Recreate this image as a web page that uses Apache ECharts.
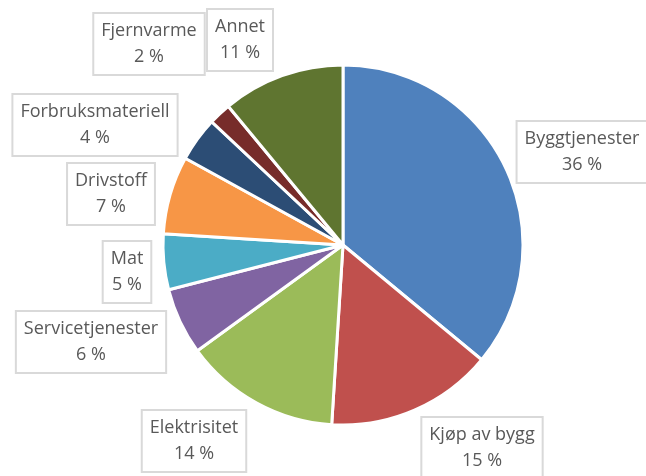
<!DOCTYPE html>
<html>
<head>
<meta charset="utf-8">
<script src="https://cdn.jsdelivr.net/npm/echarts@6/dist/echarts.min.js"></script>
<style>
  html, body { margin: 0; padding: 0; background: #fff; }
  #chart { width: 646px; height: 476px; }
</style>
</head>
<body>
<div id="chart"></div>
<script>
// 数据
var categories = ['Byggtjenester', 'Kjøp av bygg', 'Elektrisitet', 'Servicetjenester', 'Mat',
    'Drivstoff', 'Forbruksmateriell', 'Fjernvarme', 'Annet'];
var shares = [36, 15, 14, 6, 5, 7, 4, 2, 11];
var colors = ['#4f81bd', '#c0504d', '#9bbb59', '#8064a2', '#4bacc6',
    '#f79646', '#2c4d75', '#772c2a', '#5f7530'];

// label box centers (px)
var labelPos = [
    [582, 152], [482, 448], [194, 441], [91, 342], [127, 272],
    [111, 194], [95, 125], [149, 44], [240, 40]
];

var myChart = echarts.init(document.getElementById('chart'));

var option = {
    animation: false,
    color: colors,
    series: [{
        type: 'pie',
        radius: 180,
        center: [343, 245],
        startAngle: 90,
        clockwise: true,
        avoidLabelOverlap: false,
        itemStyle: {
            borderColor: '#fff',
            borderWidth: 3
        },
        label: {
            show: true,
            position: 'outside',
            formatter: function (p) {
                return p.name + '\n' + p.value + ' %';
            },
            fontFamily: 'Open Sans',
            fontSize: 18,
            lineHeight: 26,
            color: '#595959',
            align: 'center',
            backgroundColor: '#fff',
            borderColor: '#d9d9d9',
            borderWidth: 2,
            padding: [4, 7]
        },
        labelLine: { show: false },
        labelLayout: function (params) {
            var p = labelPos[params.dataIndex];
            return {
                x: p[0],
                y: p[1],
                align: 'center',
                verticalAlign: 'middle'
            };
        },
        emphasis: { disabled: true },
        data: categories.map(function (name, i) {
            return { name: name, value: shares[i] };
        })
    }]
};

myChart.setOption(option);

window.onresize = function () {
    myChart.resize();
};
</script>
</body>
</html>
